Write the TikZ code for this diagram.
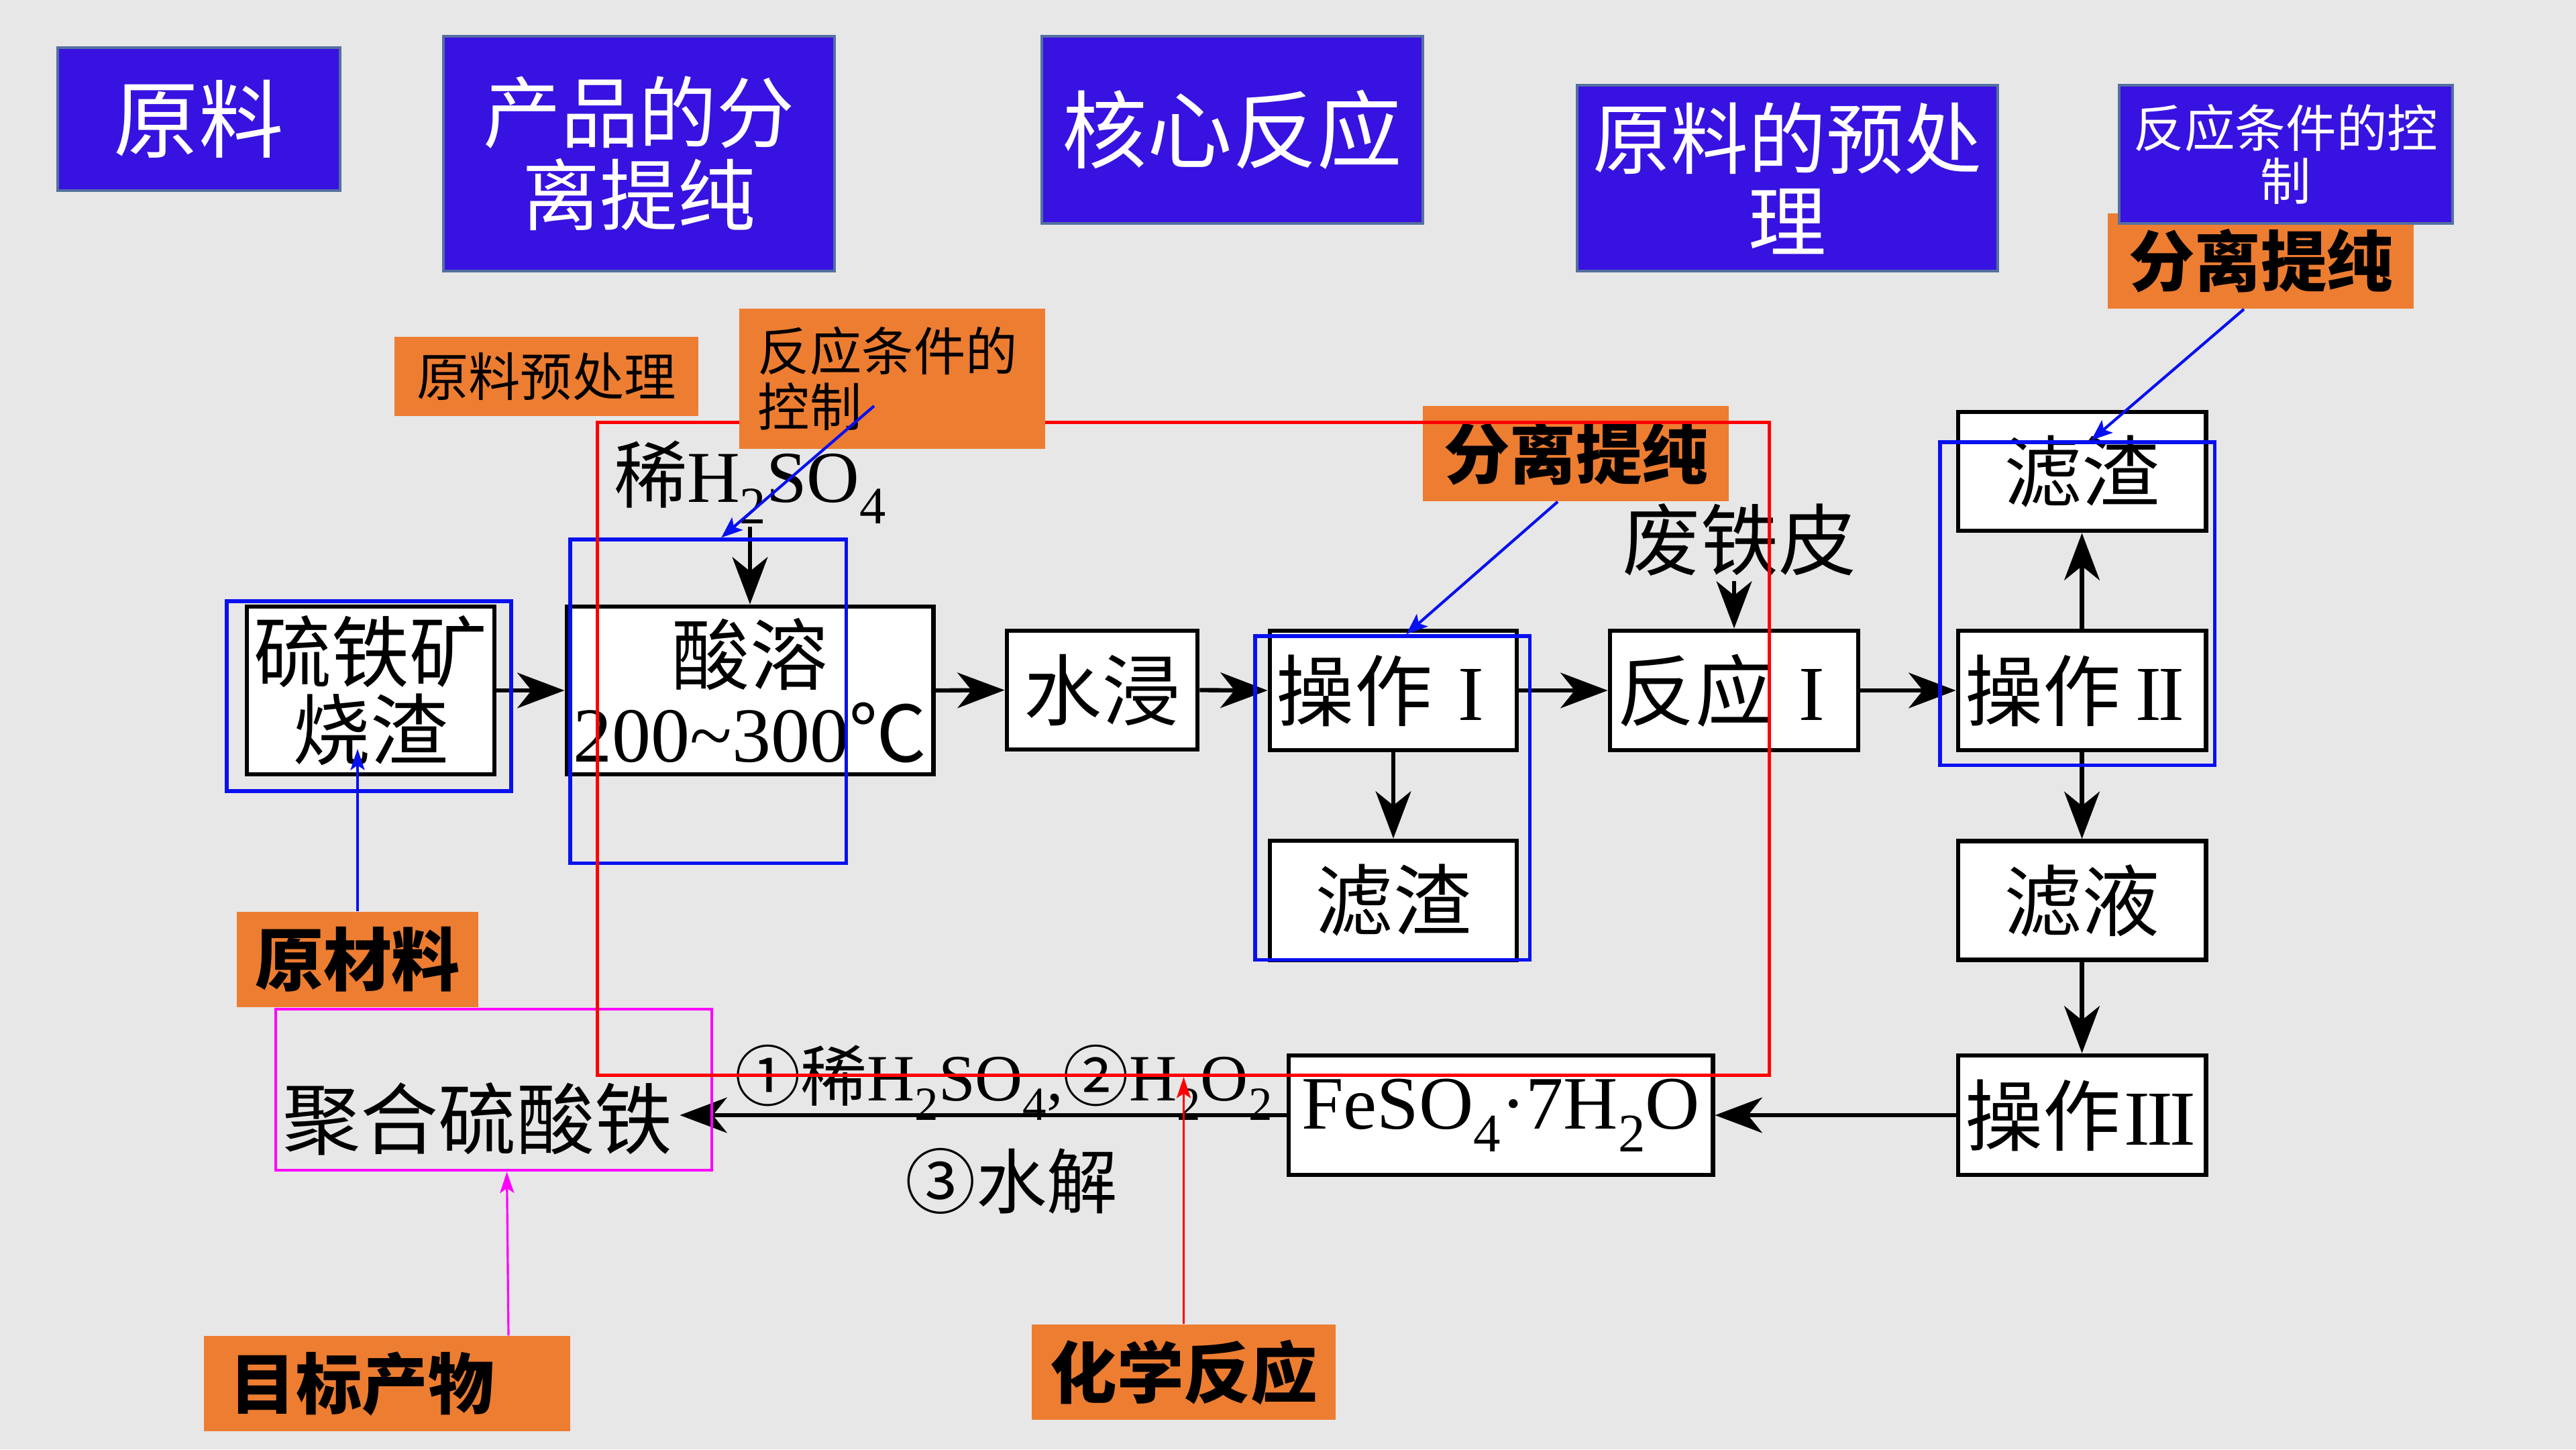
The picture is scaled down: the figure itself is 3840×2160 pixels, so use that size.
\documentclass[tikz,border=0pt]{standalone}
\usepackage{fontspec}
\setmainfont{Liberation Serif}
\newfontfamily\cjk{Noto Sans CJK SC}
\usetikzlibrary{arrows.meta,calc}
\definecolor{bgc}{RGB}{231,231,231}
\definecolor{tblue}{RGB}{56,18,224}
\definecolor{tborder}{RGB}{84,112,160}
\definecolor{orng}{RGB}{237,125,49}
\definecolor{hblue}{RGB}{8,16,240}
\definecolor{mgt}{RGB}{255,0,255}
\definecolor{rred}{RGB}{255,0,0}
\newcommand{\fsz}[2]{\fontsize{#1pt}{#2pt}\selectfont}
\newcommand{\lat}[1]{{\rmfamily #1}}
\newcommand{\sbs}[1]{\raisebox{-0.3em}{\scalebox{0.72}{#1}}}
\newcommand{\rn}[1]{\makebox[1em]{\rmfamily #1}}
\begin{document}
\begin{tikzpicture}[x=0.01cm,y=-0.01cm,
  titlebox/.style={fill=tblue,draw=tborder,line width=1pt,text=white,align=center,inner sep=0pt},
  tagbox/.style={fill=orng,inner sep=0pt,align=center},
  procbox/.style={fill=white,draw=black,line width=1.9pt,align=center,inner sep=0pt,font=\cjk\fsz{33}{33}},
  flow/.style={line width=1.8pt,-{Stealth[length=20pt,width=15pt,inset=6pt]}},
  hlrect/.style={draw=hblue,line width=1.5pt,inner sep=0pt},
  bluearrow/.style={draw=hblue,line width=1.2pt,-{Stealth[length=9pt,width=7pt,inset=2pt]}},
  thinarrow/.style={line width=0.9pt,-{Stealth[length=9pt,width=6pt,inset=2pt]}},
]
\useasboundingbox (0,0) rectangle (3840,2160);
\fill[bgc] (0,0) rectangle (3840,2160);

% orange tag under the right title box
\node[tagbox,minimum width=4.56cm,minimum height=1.42cm,font=\cjk\bfseries\fsz{28}{29}] (o4) at (3370,389) {分离提纯};

% title boxes
\node[titlebox,minimum width=4.21cm,minimum height=2.13cm,font=\cjk\fsz{36}{38}] (t1) at (296.5,177.5) {原料};
\node[titlebox,minimum width=5.83cm,minimum height=3.50cm,font=\cjk\fsz{33}{35}] (t2) at (952.5,229) {产品的分\\离提纯};
\node[titlebox,minimum width=5.68cm,minimum height=2.79cm,font=\cjk\fsz{36}{38}] (t3) at (1837,193.5) {核心反应};
\node[titlebox,minimum width=6.27cm,minimum height=2.77cm,font=\cjk\fsz{33}{35}] (t4) at (2664.5,265.5) {原料的预处\\理};
\node[titlebox,minimum width=4.97cm,minimum height=2.06cm,font=\cjk\fsz{21.5}{22.5}] (t5) at (3407.5,230) {反应条件的控\\制};

% orange tags
\node[tagbox,minimum width=4.53cm,minimum height=1.18cm,font=\cjk\fsz{22}{23}] (o1) at (814.5,561) {原料预处理};
\node[tagbox,minimum width=4.56cm,minimum height=1.42cm,font=\cjk\bfseries\fsz{28}{29}] (o3) at (2349,676) {分离提纯};
\node[tagbox,minimum width=3.60cm,minimum height=1.42cm,font=\cjk\bfseries\fsz{29}{30}] (o5) at (533,1430) {原材料};
\node[tagbox,minimum width=5.46cm,minimum height=1.42cm,text width=4.68cm,align=left,font=\cjk\bfseries\fsz{28}{29}] (o6) at (577,2062) {目标产物};
\node[tagbox,minimum width=4.53cm,minimum height=1.42cm,font=\cjk\bfseries\fsz{28.3}{29}] (o7) at (1764.5,2045) {化学反应};

% process boxes
\node[procbox,minimum width=3.69cm,minimum height=2.50cm] (b1) at (552.5,1029) {硫铁矿\\烧渣};
\node[procbox,minimum width=5.46cm,minimum height=2.50cm] (b2) at (1118,1029) {酸溶\\\lat{200\textasciitilde300}℃};
\node[procbox,minimum width=2.84cm,minimum height=1.77cm] (b3) at (1643,1028.5) {水浸};
\node[procbox,minimum width=3.68cm,minimum height=1.78cm] (b4) at (2077,1029) {操作\rn{I}};
\node[procbox,minimum width=3.68cm,minimum height=1.78cm] (b5) at (2077,1342) {滤渣};
\node[procbox,minimum width=3.70cm,minimum height=1.78cm] (b6) at (2585,1029) {反应\rn{I}};
\node[procbox,minimum width=3.69cm,minimum height=1.77cm] (b7) at (3103.5,702.5) {滤渣};
\node[procbox,minimum width=3.69cm,minimum height=1.78cm] (b8) at (3103.5,1029) {操作\rn{I\kern-0.04em I}};
\node[procbox,minimum width=3.69cm,minimum height=1.77cm] (b9) at (3103.5,1342) {滤液};
\node[procbox,minimum width=3.69cm,minimum height=1.78cm] (b10) at (3103.5,1662) {操作\rn{I\kern-0.04em I\kern-0.04em I}};
\node[procbox,minimum width=6.32cm,minimum height=1.78cm,font=\fsz{32}{33}] (b11) at (2237,1662) {\lat{FeSO\sbs{4}·7H\sbs{2}O}};

% free labels
\node[font=\cjk\fsz{31}{32},anchor=base,inner sep=1pt] (acid) at (1118,748) {稀\lat{H\sbs{2}SO\sbs{4}}};
\node[font=\cjk\fsz{33}{34},inner sep=2pt] (fe) at (2593,804) {废铁皮};
\node[font=\cjk\fsz{33}{34},inner sep=3pt] (pfs) at (712,1668) {聚合硫酸铁};
\node[font=\cjk\fsz{28}{30},anchor=base,inner sep=1pt] (lab1) at (1496,1640) {①稀\lat{H\sbs{2}SO\sbs{4},}②\lat{H\sbs{2}O\sbs{2}}};
\node[font=\cjk\fsz{30}{31},anchor=base,inner sep=1pt] (lab2) at (1508,1800) {③水解};

% flow arrows
\draw[flow] (b1.east) -- (b2.west);
\draw[flow] (b2.east) -- (b3.west);
\draw[flow] (b3.east) -- (b4.west);
\draw[flow] (b4.east) -- (b6.west);
\draw[flow] (b6.east) -- (b8.west);
\draw[flow] (b4.south) -- (b5.north);
\draw[flow] (b8.north) -- (b7.south);
\draw[flow] (b8.south) -- (b9.north);
\draw[flow] (b9.south) -- (b10.north);
\draw[flow] (b10.west) -- (b11.east);
\draw[flow] (b11.west) -- (b11.west -| pfs.east);
\draw[flow] (acid.south -| b2.north) -- (b2.north);
\draw[flow] (fe.south -| b6.north) -- (b6.north);

% highlight frames
\node[hlrect,minimum width=4.24cm,minimum height=2.83cm] (hl1) at (550,1037.5) {};
\node[hlrect,minimum width=4.11cm,minimum height=4.82cm] (hl2) at (1055.5,1045) {};
\node[hlrect,minimum width=4.09cm,minimum height=4.82cm] (hl3) at (2075.5,1189) {};
\node[hlrect,minimum width=4.09cm,minimum height=4.81cm] (hl4) at (3096.5,899.5) {};
\node[draw=mgt,line width=1.3pt,minimum width=6.50cm,minimum height=2.40cm,inner sep=0pt] (mg) at (736,1624) {};
\node[draw=rred,line width=1.5pt,minimum width=17.46cm,minimum height=9.72cm,inner sep=0pt] (rr) at (1764,1116) {};

% orange tag over the red frame
\node[tagbox,minimum width=4.56cm,minimum height=2.09cm,text width=4.0cm,align=left,font=\cjk\fsz{22}{23.5}] (o2) at (1330,564.5) {反应条件的\\控制};

% annotation arrows
\coordinate (a1s) at (1303,605);
\coordinate (a4e) at (533,1116);
\draw[bluearrow] (a1s) -- ($(hl2.north west)+(228,0)$);
\draw[bluearrow] ($(o3.south)+(-27,0)$) -- ($(hl3.north west)+(228,0)$);
\draw[bluearrow] ($(o4.south)+(-25,0)$) -- ($(hl4.north west)+(228,0)$);
\draw[thinarrow,hblue] (o5.north) -- (a4e);
\draw[thinarrow,mgt] ($(o6.north)+(181,0)$) -- ($(mg.south west)+(347,0)$);
\draw[thinarrow,rred] (o7.north) -- (o7.north |- rr.south);
\end{tikzpicture}
\end{document}
